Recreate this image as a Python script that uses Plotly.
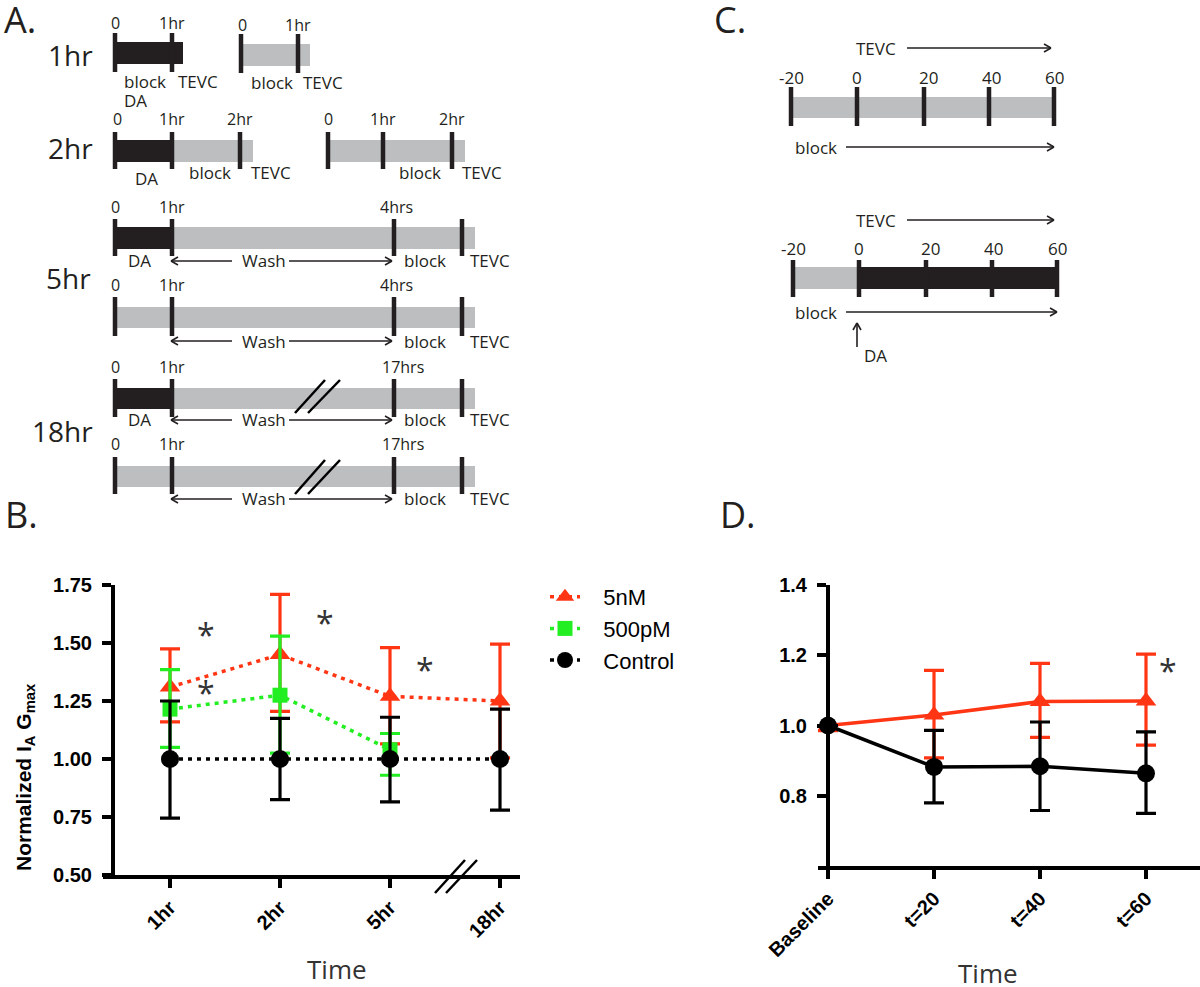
import plotly.graph_objects as go

W, H = 1200, 987

# ---------------- Panel B data ----------------
b_categories = ["1hr", "2hr", "5hr", "18hr"]
b_x = [0, 1, 2, 3]
b_5nM = [1.31, 1.45, 1.27, 1.25]
b_5nM_hi = [1.475, 1.71, 1.48, 1.495]
b_5nM_lo = [1.16, 1.205, 1.065, 1.005]
b_500pM = [1.215, 1.275, 1.04]
b_500pM_hi = [1.385, 1.53, 1.11]
b_500pM_lo = [1.05, 1.025, 0.93]
b_ctrl = [1.0, 1.0, 1.0, 1.0]
b_ctrl_hi = [1.25, 1.175, 1.18, 1.215]
b_ctrl_lo = [0.745, 0.825, 0.815, 0.78]
b_yticks = [0.50, 0.75, 1.00, 1.25, 1.50, 1.75]

# ---------------- Panel D data ----------------
d_categories = ["Baseline", "t=20", "t=40", "t=60"]
d_x = [0, 1, 2, 3]
d_da = [1.0, 1.03, 1.068, 1.07]
d_da_hi = [1.0, 1.157, 1.177, 1.203]
d_da_lo = [0.985, 0.908, 0.966, 0.944]
d_ctrl = [1.0, 0.882, 0.884, 0.864]
d_ctrl_hi = [1.0, 0.986, 1.01, 0.982]
d_ctrl_lo = [1.0, 0.78, 0.758, 0.75]
d_yticks = [0.8, 1.0, 1.2, 1.4]

RED = "#FF3514"
GREEN = "#22EE22"
BLACK = "#000000"
DARK = "#231F20"
GRAY = "#BCBEC0"
SANS = "Liberation Sans"
HUM = "Open Sans"
NB = "\u00a0\u00a0\u00a0"


def up(v, hi):
    return [h - m for m, h in zip(v, hi)]


def down(v, lo):
    return [m - l for m, l in zip(v, lo)]


def err(v, hi, lo, color):
    return dict(type="data", symmetric=False, array=up(v, hi), arrayminus=down(v, lo),
                color=color, thickness=3.2, width=10)


fig = go.Figure()

dotdash = "4px,5px"
fig.add_trace(go.Scatter(x=b_x, y=b_5nM, name=NB + "5nM", mode="lines+markers",
                         line=dict(color=RED, width=3.5, dash=dotdash),
                         marker=dict(symbol="triangle-up", size=18, color=RED),
                         error_y=err(b_5nM, b_5nM_hi, b_5nM_lo, RED), cliponaxis=False,
                         xaxis="x", yaxis="y"))
fig.add_trace(go.Scatter(x=b_x[:3], y=b_500pM, name=NB + "500pM", mode="lines+markers",
                         line=dict(color=GREEN, width=3.5, dash=dotdash),
                         marker=dict(symbol="square", size=15, color=GREEN),
                         error_y=err(b_500pM, b_500pM_hi, b_500pM_lo, GREEN), cliponaxis=False,
                         xaxis="x", yaxis="y"))
fig.add_trace(go.Scatter(x=b_x, y=b_ctrl, name=NB + "Control", mode="lines+markers",
                         line=dict(color=BLACK, width=3.5, dash=dotdash),
                         marker=dict(symbol="circle", size=18, color=BLACK),
                         error_y=err(b_ctrl, b_ctrl_hi, b_ctrl_lo, BLACK), cliponaxis=False,
                         xaxis="x", yaxis="y"))

fig.add_trace(go.Scatter(x=d_x, y=d_da, name="DA", mode="lines+markers", showlegend=False,
                         line=dict(color=RED, width=3.5),
                         marker=dict(symbol="triangle-up", size=18, color=RED),
                         error_y=err(d_da, d_da_hi, d_da_lo, RED), cliponaxis=False,
                         xaxis="x2", yaxis="y2"))
fig.add_trace(go.Scatter(x=d_x, y=d_ctrl, name="Control", mode="lines+markers", showlegend=False,
                         line=dict(color=BLACK, width=3.5),
                         marker=dict(symbol="circle", size=18, color=BLACK),
                         error_y=err(d_ctrl, d_ctrl_hi, d_ctrl_lo, BLACK), cliponaxis=False,
                         xaxis="x2", yaxis="y2"))


def X(px):
    return px / W


def Y(py):
    return 1 - py / H


axis_common = dict(showline=True, linewidth=4, linecolor=BLACK, ticks="outside",
                   ticklen=9, tickwidth=4, tickcolor=BLACK, showgrid=False, zeroline=False,
                   tickfont=dict(family=SANS, size=20, color=BLACK, weight="bold"))

# B axes: y axis at x=113, categories 110 px apart, first at x=170
b_x0, b_x1 = 103, 520
b_xr = [(b_x0 - 170) / 110, (b_x1 - 170) / 110]
fig.update_layout(
    xaxis=dict(domain=[X(b_x0), X(b_x1)], range=b_xr, tickvals=b_x, ticktext=b_categories,
               tickangle=-45, anchor="y", **axis_common),
    yaxis=dict(domain=[Y(875), Y(585)], range=[0.5, 1.75], tickvals=b_yticks,
               ticktext=[f"{v:.2f}" for v in b_yticks], anchor="free", position=X(113),
               ticklabelstandoff=6, **axis_common),
)
# D axes: y axis at x=828, categories 106 px apart
d_x0, d_x1 = 818, 1200
d_xr = [(d_x0 - 828) / 106, (d_x1 - 828) / 106]
fig.update_layout(
    xaxis2=dict(domain=[X(d_x0), X(d_x1)], range=d_xr, tickvals=d_x, ticktext=d_categories,
                tickangle=-45, anchor="y2", **axis_common),
    yaxis2=dict(domain=[Y(866), Y(585)], range=[0.6, 1.4], tickvals=d_yticks,
                ticktext=[f"{v:.1f}" for v in d_yticks], anchor="free", position=X(828),
                ticklabelstandoff=6, **axis_common),
)

shapes = []
annotations = []


def rect(x0, x1, y0, y1, color):
    shapes.append(dict(type="rect", xref="paper", yref="paper", x0=X(x0), x1=X(x1),
                       y0=Y(y1), y1=Y(y0), fillcolor=color, line=dict(width=0)))


def seg(x0, y0, x1, y1, w=4, color=DARK):
    shapes.append(dict(type="line", xref="paper", yref="paper", x0=X(x0), y0=Y(y0),
                       x1=X(x1), y1=Y(y1), line=dict(color=color, width=w)))


def text(s, x, y, size=17, color=DARK, family=HUM, xanchor="center", weight="normal", angle=0):
    annotations.append(dict(text=s, x=X(x), y=Y(y), xref="paper", yref="paper",
                            showarrow=False, xanchor=xanchor, yanchor="middle", textangle=angle,
                            font=dict(family=family, size=size, color=color, weight=weight)))


def harrow(x0, x1, y):
    seg(x0, y, x1, y, w=1.6)
    d = 1 if x1 > x0 else -1
    seg(x1, y, x1 - d * 7, y - 4, w=1.6)
    seg(x1, y, x1 - d * 7, y + 4, w=1.6)


# ---------------- Panel A schematic ----------------
A_rows = [
    dict(bars=[(115, 183, DARK)], by=(42, 64), ticks=[115, 172], ty=(33, 72),
         top=[("0", 115), ("1hr", 172)], top_y=23,
         bottom=[("block", 145, 81), ("TEVC", 198, 81), ("DA", 135, 100)]),
    dict(bars=[(242, 310, GRAY)], by=(44, 66), ticks=[241, 298], ty=(34, 73),
         top=[("0", 242), ("1hr", 298)], top_y=25,
         bottom=[("block", 272, 83), ("TEVC", 323, 83)]),
    dict(bars=[(115, 172, DARK), (172, 253, GRAY)], by=(140, 162), ticks=[115, 172, 240], ty=(132, 169),
         top=[("0", 117), ("1hr", 172), ("2hr", 240)], top_y=119,
         bottom=[("DA", 146, 178), ("block", 210, 172), ("TEVC", 271, 172)]),
    dict(bars=[(328, 465, GRAY)], by=(140, 162), ticks=[328, 383, 452], ty=(132, 169),
         top=[("0", 328), ("1hr", 383), ("2hr", 452)], top_y=119,
         bottom=[("block", 420, 172), ("TEVC", 482, 172)]),
    dict(bars=[(115, 172, DARK), (172, 475, GRAY)], by=(227, 249), ticks=[115, 172, 394, 462], ty=(219, 256),
         top=[("0", 115), ("1hr", 172), ("4hrs", 396)], top_y=207,
         bottom=[("DA", 139, 261), ("block", 425, 261), ("TEVC", 490, 261)], wash=261),
    dict(bars=[(115, 475, GRAY)], by=(307, 328), ticks=[115, 172, 394, 462], ty=(297, 336),
         top=[("0", 115), ("1hr", 172), ("4hrs", 396)], top_y=285,
         bottom=[("block", 425, 341), ("TEVC", 490, 341)], wash=341),
    dict(bars=[(115, 172, DARK), (172, 475, GRAY)], by=(388, 409), ticks=[115, 172, 394, 462], ty=(379, 417),
         top=[("0", 115), ("1hr", 172), ("17hrs", 403)], top_y=367,
         bottom=[("DA", 139, 420), ("block", 425, 420), ("TEVC", 490, 420)], wash=420,
         brk=(380, 413)),
    dict(bars=[(115, 475, GRAY)], by=(466, 487), ticks=[115, 172, 394, 462], ty=(457, 494),
         top=[("0", 115), ("1hr", 172), ("17hrs", 403)], top_y=444,
         bottom=[("block", 425, 499), ("TEVC", 490, 499)], wash=499,
         brk=(460, 494)),
]

for r in A_rows:
    for x0, x1, c in r["bars"]:
        rect(x0, x1, r["by"][0], r["by"][1], c)
    for t in r["ticks"]:
        seg(t, r["ty"][0], t, r["ty"][1], w=4.5)
    for s, x in r["top"]:
        text(s, x, r["top_y"], size=16)
    for s, x, y in r["bottom"]:
        text(s, x, y, size=17)
    if "wash" in r:
        y = r["wash"]
        harrow(232, 171, y)
        text("Wash", 264, y, size=17)
        harrow(289, 392, y)
    if "brk" in r:
        y0, y1 = r["brk"]
        seg(295, y1, 325, y0, w=2.5, color=BLACK)
        seg(308, y1, 340, y0, w=2.5, color=BLACK)

for s, x, y in [("1hr", 70, 55), ("2hr", 70, 148), ("5hr", 68, 278), ("18hr", 62, 431)]:
    text(s, x, y, size=28)

# ---------------- Panel C schematic ----------------
C_rows = [
    dict(tevc_y=48, lab_y=77, labs=[("-20", 791), ("0", 857), ("20", 928), ("40", 991), ("60", 1054)],
         bars=[(791, 1054, GRAY)], by=(97, 118), ticks=[791, 857, 924, 989, 1054], ty=(87, 126),
         block_y=147, end=1054),
    dict(tevc_y=220, lab_y=248, labs=[("-20", 793), ("0", 859), ("20", 930), ("40", 993), ("60", 1057)],
         bars=[(793, 859, GRAY), (859, 1057, DARK)], by=(267, 289), ticks=[793, 859, 926, 992, 1057],
         ty=(260, 297), block_y=312, end=1057, da=True),
]
for r in C_rows:
    text("TEVC", 876, r["tevc_y"], size=17)
    harrow(907, r["end"] - 3, r["tevc_y"])
    for s, x in r["labs"]:
        text(s, x, r["lab_y"], size=17)
    for x0, x1, c in r["bars"]:
        rect(x0, x1, r["by"][0], r["by"][1], c)
    for t in r["ticks"]:
        seg(t, r["ty"][0], t, r["ty"][1], w=4.5)
    text("block", 816, r["block_y"], size=17)
    harrow(846, r["end"], r["block_y"])
    if r.get("da"):
        seg(857, 347, 857, 323, w=1.6)
        seg(857, 323, 853, 330, w=1.6)
        seg(857, 323, 861, 330, w=1.6)
        text("DA", 875, 355, size=17)

# ---------------- Panel letters, titles, asterisks ----------------
for s, x, y in [("A.", 20, 20), ("C.", 730, 20), ("B.", 21, 514), ("D.", 738, 514)]:
    text(s, x, y, size=36)

text("Time", 337, 969, size=26, color="#333333")
text("Time", 988, 973, size=26, color="#333333")
text("Normalized I<sub>A</sub> G<sub>max</sub>", 25, 777, size=21, color=BLACK,
     family=SANS, weight="bold", angle=-90)

for x, y in [(206, 630), (325, 618), (425, 665), (206, 688), (1168, 666)]:
    text("*", x, y + 4, size=32, color="#333333")

# axis break marks on B x-axis
seg(435, 893, 465, 860, w=2.5, color=BLACK)
seg(446, 893, 477, 860, w=2.5, color=BLACK)

fig.update_layout(
    width=W, height=H, margin=dict(l=0, r=0, t=0, b=0, pad=0, autoexpand=False),
    paper_bgcolor="white", plot_bgcolor="white",
    shapes=shapes, annotations=annotations,
    showlegend=True,
    legend=dict(x=X(545), y=Y(576), xanchor="left", yanchor="top",
                font=dict(family=SANS, size=22, color=BLACK),
                bgcolor="rgba(0,0,0,0)", itemwidth=30, tracegroupgap=0),
)

fig.write_html("out.html", config={"displayModeBar": False},
               post_script="document.body.style.margin='0';document.body.style.padding='0';")
